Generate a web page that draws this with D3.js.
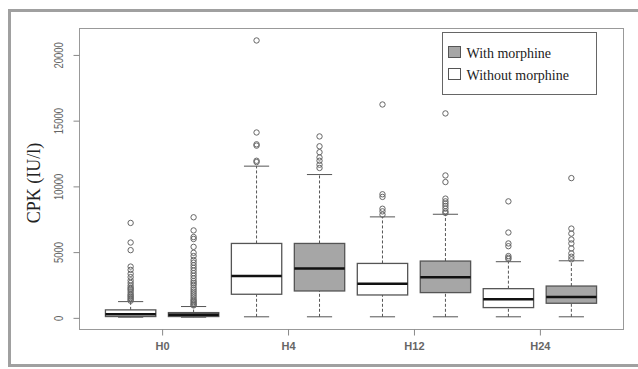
<!DOCTYPE html>
<html>
<head>
<meta charset="utf-8">
<script src="https://cdn.jsdelivr.net/npm/d3@7"></script>
<style>
  body { margin: 0; background: #fff; }
  svg { display: block; }
</style>
</head>
<body>
<div id="chart"></div>
<script>
// groups on the x axis, two boxes per group (without morphine first, then with)
const groups = ['H0', 'H4', 'H12', 'H24'];
const seriesNames = ['Without morphine', 'With morphine'];

// [lower whisker, Q1, median, Q3, upper whisker]
const withoutStats = [
  [50, 100, 280, 606, 1235],
  [80, 1795, 3180, 5660, 11540],
  [80, 1740, 2600, 4140, 7680],
  [80, 780, 1420, 2220, 4270]
];
const withStats = [
  [50, 100, 230, 400, 860],
  [80, 2045, 3760, 5660, 10900],
  [80, 1920, 3080, 4320, 7880],
  [80, 1110, 1590, 2420, 4340]
];

const withoutOutliers = [
  [7220, 5730, 5150, 3900, 3650, 3350, 3100, 2850, 2650, 2450, 2300, 2200, 2100, 1950, 1800, 1700, 1600, 1500, 1400, 1300],
  [21100, 14100, 13200, 13100, 11950, 11850],
  [16230, 9400, 9200, 8300, 8100, 7850],
  [8860, 6490, 5660, 5450, 4700, 4570, 4470]
];
const withOutliers = [
  [7650, 6650, 6150, 6000, 5400, 4950, 4700, 4400, 4200, 4000, 3800, 3600, 3400, 3200, 3000, 2800, 2650, 2500, 2300, 2150, 2000, 1850, 1700, 1550, 1400, 1300, 1200, 1100, 1000, 950],
  [13800, 13050, 12600, 12200, 11950, 11650, 11400],
  [15550, 10830, 10330, 9070, 8860, 8690, 8510, 8310, 8100, 7980],
  [10630, 6790, 6410, 5960, 5660, 5280, 4900, 4650, 4450]
];

const yTicks = [0, 5000, 10000, 15000, 20000];
const fills = ['#ffffff', '#a6a6a6'];

const width = 638;
const height = 369;
const plot = { left: 79, right: 623, top: 28, bottom: 329 };

const svg = d3.select('#chart')
  .append('svg')
  .attr('width', width)
  .attr('height', height);

// outer grey frame
svg.append('rect')
  .attr('x', 9.5).attr('y', 10.5)
  .attr('width', 640).attr('height', 355)
  .attr('fill', 'none')
  .attr('stroke', '#a0a0a0')
  .attr('stroke-width', 3);

// R style extended ranges
const xScale = d3.scaleLinear()
  .domain([0.18, 8.82])
  .range([plot.left, plot.right]);

const yScale = d3.scaleLinear()
  .domain([-848, 22048])
  .range([plot.bottom, plot.top]);

// build the boxes from the arrays
const boxes = [];
groups.forEach((g, i) => {
  boxes.push({ pos: i * 2 + 1, s: 0, stats: withoutStats[i], out: withoutOutliers[i] });
  boxes.push({ pos: i * 2 + 2, s: 1, stats: withStats[i], out: withOutliers[i] });
});

const boxW = xScale(0.8) - xScale(0);

const boxG = svg.selectAll('g.box')
  .data(boxes)
  .enter()
  .append('g')
  .attr('class', 'box');

// whiskers (dashed)
boxG.append('line')
  .attr('x1', d => xScale(d.pos)).attr('x2', d => xScale(d.pos))
  .attr('y1', d => yScale(d.stats[3])).attr('y2', d => yScale(d.stats[4]))
  .attr('stroke', '#555').attr('stroke-dasharray', '3,2');
boxG.append('line')
  .attr('x1', d => xScale(d.pos)).attr('x2', d => xScale(d.pos))
  .attr('y1', d => yScale(d.stats[0])).attr('y2', d => yScale(d.stats[1]))
  .attr('stroke', '#555').attr('stroke-dasharray', '3,2');

// staples
[0, 4].forEach(k => {
  boxG.append('line')
    .attr('x1', d => xScale(d.pos) - boxW / 4).attr('x2', d => xScale(d.pos) + boxW / 4)
    .attr('y1', d => yScale(d.stats[k])).attr('y2', d => yScale(d.stats[k]))
    .attr('stroke', '#555');
});

// box
boxG.append('rect')
  .attr('x', d => xScale(d.pos) - boxW / 2)
  .attr('y', d => yScale(d.stats[3]))
  .attr('width', boxW)
  .attr('height', d => yScale(d.stats[1]) - yScale(d.stats[3]))
  .attr('fill', d => fills[d.s])
  .attr('stroke', '#555')
  .attr('stroke-width', 1.3);

// median
boxG.append('line')
  .attr('x1', d => xScale(d.pos) - boxW / 2).attr('x2', d => xScale(d.pos) + boxW / 2)
  .attr('y1', d => yScale(d.stats[2])).attr('y2', d => yScale(d.stats[2]))
  .attr('stroke', '#111').attr('stroke-width', 2.5);

// outliers
boxG.selectAll('circle')
  .data(d => d.out.map(v => ({ pos: d.pos, v })))
  .enter()
  .append('circle')
  .attr('cx', d => xScale(d.pos))
  .attr('cy', d => yScale(d.v))
  .attr('r', 2.7)
  .attr('fill', 'none')
  .attr('stroke', '#666')
  .attr('stroke-width', 1);

// plot frame
svg.append('rect')
  .attr('x', plot.left + 0.5).attr('y', plot.top + 0.5)
  .attr('width', plot.right - plot.left).attr('height', plot.bottom - plot.top)
  .attr('fill', 'none')
  .attr('stroke', '#999');

// y axis
const yAxisG = svg.append('g')
  .attr('transform', `translate(${plot.left + 0.5}, 0)`)
  .call(d3.axisLeft(yScale).tickValues(yTicks).tickSize(6).tickFormat(d3.format('d')));
yAxisG.select('.domain').attr('stroke', '#999')
  .attr('d', `M0,${yScale(0)}V${yScale(20000)}`);
yAxisG.selectAll('.tick line').attr('stroke', '#888');
yAxisG.selectAll('.tick text')
  .attr('x', 0).attr('y', 0).attr('dy', 0)
  .attr('transform', 'translate(-17,0) rotate(-90) scale(0.7,1)')
  .attr('text-anchor', 'middle')
  .attr('font-family', 'Liberation Sans, Arial, sans-serif')
  .attr('font-size', 13.5)
  .attr('fill', '#666');

// x axis
const xAxisG = svg.append('g')
  .attr('transform', `translate(0, ${plot.bottom + 0.5})`)
  .call(d3.axisBottom(xScale)
    .tickValues(groups.map((g, i) => i * 2 + 1.5))
    .tickSize(6)
    .tickFormat((d, i) => groups[i]));
xAxisG.select('.domain').remove();
xAxisG.selectAll('.tick line').attr('stroke', '#888');
xAxisG.selectAll('.tick text')
  .attr('y', 13).attr('dy', '0.71em')
  .attr('font-family', 'Liberation Sans, Arial, sans-serif')
  .attr('font-size', 11)
  .attr('font-weight', 'bold')
  .attr('fill', '#666');

// y axis title
svg.append('text')
  .attr('transform', 'translate(40, 183) rotate(-90)')
  .attr('text-anchor', 'middle')
  .attr('font-family', 'Liberation Serif, Times New Roman, serif')
  .attr('font-size', 18)
  .attr('fill', '#222')
  .text('CPK (IU/l)');

// legend
const legend = svg.append('g').attr('transform', 'translate(442.5, 32.5)');
legend.append('rect')
  .attr('width', 154).attr('height', 62)
  .attr('fill', '#fff')
  .attr('stroke', '#666');
const legendItems = [
  { name: seriesNames[1], fill: fills[1] },
  { name: seriesNames[0], fill: fills[0] }
];
legendItems.forEach((it, i) => {
  legend.append('rect')
    .attr('x', 6).attr('y', 14 + i * 22)
    .attr('width', 12).attr('height', 11)
    .attr('fill', it.fill)
    .attr('stroke', '#555');
  legend.append('text')
    .attr('x', 24).attr('y', 25 + i * 22)
    .attr('font-family', 'Liberation Serif, Times New Roman, serif')
    .attr('font-size', 14)
    .attr('fill', '#222')
    .text(it.name);
});
</script>
</body>
</html>
